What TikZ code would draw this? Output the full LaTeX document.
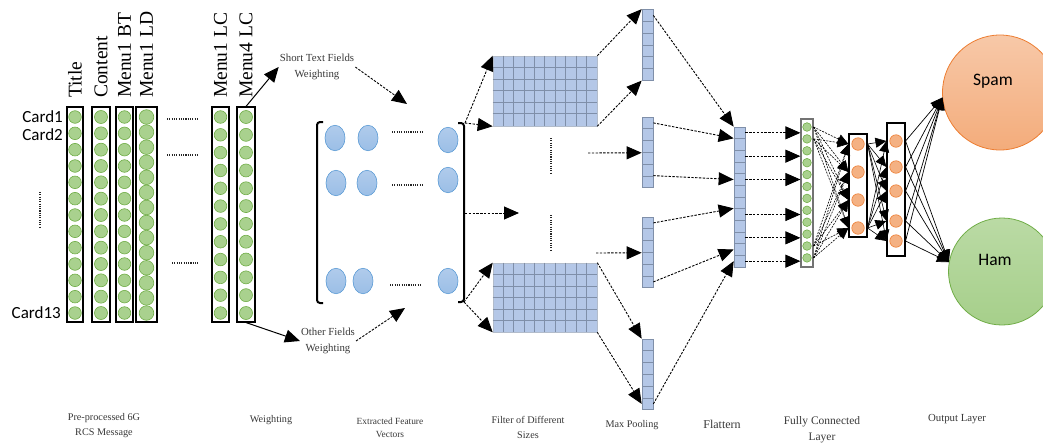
\documentclass[tikz,border=0pt]{standalone}
\usepackage{fontspec}
\setmainfont{Liberation Serif}
\newfontfamily\cardfont{Carlito}
\usetikzlibrary{arrows.meta,shapes.geometric}

\definecolor{gfill}{HTML}{A9D18E}
\definecolor{gline}{HTML}{70AD47}
\definecolor{ofill}{HTML}{F4B183}
\definecolor{oline}{HTML}{ED7D31}
\definecolor{bfill}{HTML}{B4C7E7}
\definecolor{bline}{HTML}{7F8FA9}
\definecolor{efill}{HTML}{A2C2E8}
\definecolor{eline}{HTML}{5B9BD5}
\definecolor{capgray}{HTML}{383838}

\begin{document}
\begin{tikzpicture}[x=1pt,y=-1pt,
  colbox/.style={draw=black, line width=1.1pt, minimum height=215pt, inner sep=0pt},
  gcirc/.style={circle, draw=gline, fill=gfill, line width=0.6pt, inner sep=0pt},
  ocirc/.style={circle, draw=oline, fill=ofill, line width=0.6pt, inner sep=0pt, minimum size=12.5pt},
  collabel/.style={rotate=90, anchor=west, inner sep=0pt, font=\fontsize{19.5}{20}\selectfont},
  cardlab/.style={anchor=east, inner sep=0pt, font=\cardfont\fontsize{17}{18}\selectfont},
  caption/.style={align=center, inner sep=0pt, text=capgray, font=\fontsize{10.2}{15}\selectfont},
  wlabel/.style={align=center, inner sep=1pt, text=capgray, font=\fontsize{10.8}{15.5}\selectfont},
  feat/.style={ellipse, draw=eline, line width=0.6pt, top color=efill!85!white, bottom color=efill!90!eline,
    minimum width=20pt, minimum height=25.5pt, inner sep=0pt},
  filt/.style={draw=bline!60, fill=bfill, line width=0.6pt, minimum width=104pt, inner sep=0pt},
  gridln/.style={draw=bline, line width=0.7pt},
  pcell/.style={draw=bline, fill=bfill, line width=0.7pt, minimum width=11pt, inner sep=0pt},
  fcbox/.style={draw=black, line width=1.1pt, inner sep=0pt},
  hdots/.style={line width=1.7pt, dash pattern=on 1.1pt off 1.2pt, black!85},
  vdots/.style={line width=1.7pt, dash pattern=on 1.1pt off 1.2pt, black!85},
  bracket/.style={line width=2pt, rounded corners=3pt},
  bighead/.style={-{Triangle[length=15pt,width=13pt]}},
  dasharr/.style={bighead, line width=0.9pt, dash pattern=on 2.4pt off 1.4pt},
  solarr/.style={bighead, line width=1pt},
  fcdash/.style={-{Triangle[length=11pt,width=10pt]}, line width=0.6pt, dash pattern=on 2pt off 1.2pt},
  fcsolid/.style={-{Triangle[length=11pt,width=10pt]}, line width=0.6pt},
  outarr/.style={-{Triangle[length=12pt,width=11pt]}, line width=0.7pt},
  outtext/.style={inner sep=0pt, font=\cardfont\fontsize{17.5}{18}\selectfont}
]
\useasboundingbox (0,0) rectangle (1043,442);
\clip (0,0) rectangle (1043,442);

% ---------- input message: one column of cards per field ----------
\foreach \n/\xc/\w/\k/\d/\lab in {c1/75/16/13/12.6/Title, c2/101/18/13/13/Content,
    c3/124.5/17/13/12.6/Menu1 BT, c4/146.5/21/14/14.6/Menu1 LD,
    c5/220.5/17/12/12.6/Menu1 LC, c6/246/18/12/13/Menu4 LC}{
  \node[colbox, minimum width=\w pt] (\n) at (\xc,214.5) {};
  \pgfmathsetmacro\stp{196/(\k-1)}
  \foreach \i in {1,...,\k}{
    \node[gcirc, minimum size=\d pt] (\n-\i) at (\xc,{117+(\i-1)*\stp}) {};
  }
  \node[collabel] (\n-lab) at (\xc,98) {\lab};
}

\node[cardlab] (card1) at (63,117) {Card1};
\node[cardlab] (card2) at (63,135) {Card2};
\node[cardlab] (card13) at (61,313) {Card13};
\draw[vdots] (40,192) -- (40,227);

\draw[hdots] (167,119) -- (197,119);
\draw[hdots] (167,155) -- (197,155);
\draw[hdots] (172,263) -- (198,263);

% ---------- weighting ----------
\node[wlabel] (stw) at (317,67) {Short Text Fields\\Weighting};
\node[wlabel] (ofw) at (328,341) {Other Fields\\Weighting};
\coordinate (vtop) at (407,104);
\coordinate (vbot) at (405,308);
\draw[solarr] (c6.north) -- (stw.west);
\draw[solarr] (c6.south) -- (ofw.west);
\draw[dasharr] (stw.east) -- (vtop);
\draw[dasharr] (ofw.east) -- (vbot);

% ---------- extracted feature vectors ----------
\draw[bracket] (323,122) -- (317,122) -- (317,303) -- (323,303);
\draw[bracket] (458,123) -- (464,123) -- (464,302) -- (458,302);
\coordinate (br-t) at (465,123);
\coordinate (br-m) at (465,213);
\coordinate (br-b) at (464,302);

\node[feat] (e11) at (335,138) {};
\node[feat] (e12) at (368,138) {};
\node[feat] (e13) at (448,140) {};
\node[feat] (e21) at (336,183) {};
\node[feat] (e22) at (367,183) {};
\node[feat] (e23) at (448,180) {};
\node[feat] (e31) at (336,281) {};
\node[feat] (e32) at (363,281) {};
\node[feat] (e33) at (448,281) {};
\draw[hdots] (392,132) -- (422,132);
\draw[hdots] (392,185) -- (422,185);
\draw[hdots] (390,285) -- (421,285);

% ---------- filters of different sizes ----------
\node[filt, minimum height=70pt] (f1) at (545,91) {};
\node[filt, minimum height=69pt] (f2) at (545,297.5) {};
\foreach \f in {f1,f2}{
  \foreach \j in {1,...,9}
    \draw[gridln] ([xshift=\j*10.4pt]\f.north west) -- ([xshift=\j*10.4pt]\f.south west);
  \foreach \j in {1,...,5}
    \draw[gridln] ([yshift=-\j*11.6pt]\f.north west) -- ([yshift=-\j*11.6pt]\f.north east);
}
\draw[vdots] (551,138) -- (551,173);
\draw[vdots] (551,215) -- (551,250);

\coordinate (mid-tip) at (519,213);
\draw[dasharr] (br-t) -- (f1.north west);
\draw[dasharr] (br-t) -- (f1.south west);
\draw[dasharr] (br-m) -- (mid-tip);
\draw[dasharr] (br-b) -- (f2.north west);
\draw[dasharr] (br-b) -- (f2.south west);

% ---------- max pooling ----------
\foreach \p/\top in {p1/9.5, p2/117, p3/217, p4/339}{
  \foreach \i in {1,...,6}
    \node[pcell, minimum height=11.8pt] (\p-\i) at (647.5,{\top+(\i-0.5)*11.8}) {};
}
\coordinate (m1) at (588,153);
\coordinate (m2) at (596,253);
\draw[dasharr] (f1.north east) -- (p1-1.north west);
\draw[dasharr] (f1.south east) -- (p1-6.south west);
\draw[dasharr] (m1) -- (p2-3.south west);
\draw[dasharr] (m2) -- (p3-3.south west);
\draw[dasharr] (f2.north east) -- (p4-1.north west);
\draw[dasharr] (f2.south east) -- (p4-6.west);

% ---------- flatten ----------
\foreach \i in {1,...,12}
  \node[pcell, minimum height=11.667pt] (fl\i) at (739.5,{127+(\i-0.5)*11.667}) {};
\draw[dasharr] (p1-1.east) -- (fl1.north west);
\draw[dasharr] (p2-1.east) -- (fl2.north west);
\draw[dasharr] (p2-6.north east) -- (fl5.west);
\draw[dasharr] (p3-1.east) -- (fl8.north west);
\draw[dasharr] (p3-6.east) -- (fl11.west);
\draw[dasharr] (p4-6.east) -- (fl12.west);

% ---------- fully connected layers ----------
\node[fcbox, draw=black!55, line width=1.2pt, minimum width=12pt, minimum height=148pt] (fc1) at (807,193) {};
\foreach \i in {1,...,12}
  \node[gcirc, minimum size=8.6pt] (fc1-\i) at (807,{127+(\i-1)*11.9}) {};
\node[fcbox, minimum width=18pt, minimum height=103pt] (fc2) at (858,185.5) {};
\foreach \i/\y in {1/144, 2/172, 3/200, 4/228}
  \node[ocirc] (fc2-\i) at (858,\y) {};
\node[fcbox, minimum width=18pt, minimum height=133pt] (fc3) at (896,189.5) {};
\foreach \i/\y in {1/141, 2/167, 3/191, 4/221, 5/241}
  \node[ocirc] (fc3-\i) at (896,\y) {};

\foreach \i in {1,3,5,8,10,12}
  \draw[dasharr] (fl\i.east) -- (fl\i.east -| fc1.west);

\foreach \s in {1,2,11,12}
  \foreach \t in {1,...,4}
    \draw[fcdash] (fc1-\s -| fc1.east) -- (fc2-\t -| fc2.west);
\foreach \s in {1,4}
  \foreach \t in {1,...,5}
    \draw[fcsolid] (fc2-\s -| fc2.east) -- (fc3-\t -| fc3.west);

% ---------- output layer ----------
\node[circle, draw=oline, line width=0.8pt, top color=ofill!70!white, bottom color=ofill!90!oline,
  minimum size=115pt, inner sep=0pt] (spam) at (1000,92.5) {};
\node[circle, draw=gline, line width=0.8pt, top color=gfill!80!white, bottom color=gfill!95!gline,
  minimum size=107pt, inner sep=0pt] (ham) at (1002,271.5) {};
\node[outtext] (spamt) at (993,81) {Spam};
\node[outtext] (hamt) at (995,260) {Ham};
\foreach \s in {1,...,5}{
  \draw[outarr] (fc3-\s -| fc3.east) -- (spam.185);
  \draw[outarr] (fc3-\s -| fc3.east) -- (ham.170);
}

% ---------- stage captions ----------
\node[caption] (cap1) at (104,426) {Pre-processed 6G\\RCS Message};
\node[caption] (cap2) at (271,420) {Weighting};
\node[caption, font=\fontsize{9.4}{13.5}\selectfont] (cap3) at (390,428) {Extracted Feature\\Vectors};
\node[caption] (cap4) at (528,427) {Filter of Different\\Sizes};
\node[caption] (cap5) at (632,425) {Max Pooling};
\node[caption, font=\fontsize{12}{15}\selectfont] (cap6) at (722,424) {Flattern};
\node[caption, font=\fontsize{11.5}{16}\selectfont] (cap7) at (822,430) {Fully Connected\\Layer};
\node[caption, font=\fontsize{10.8}{15}\selectfont] (cap8) at (957,419) {Output Layer};
\end{tikzpicture}
\end{document}
